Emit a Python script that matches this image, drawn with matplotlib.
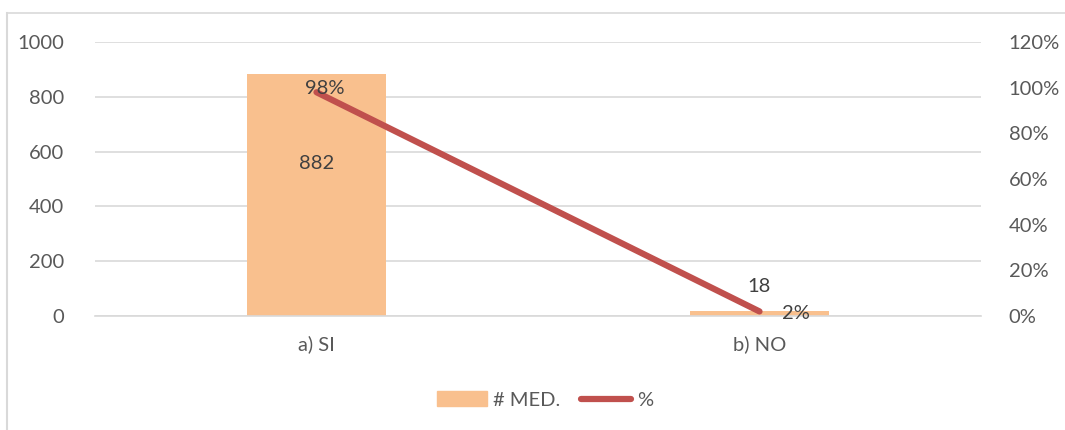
import matplotlib.pyplot as plt
from matplotlib.lines import Line2D
from matplotlib.patches import Patch
from matplotlib.ticker import FuncFormatter

categories = ["a) SI", "b) NO"]
med_counts = [882, 18]
percents = [0.98, 0.02]

bar_color = "#F9C08E"
line_color = "#C0504D"
text_color = "#595959"
grid_color = "#D9D9D9"

plt.rcParams["font.family"] = ["Lato", "DejaVu Sans"]
fs = 14.5

fig = plt.figure(figsize=(10.65, 4.3), dpi=100)
ax = fig.add_axes([95 / 1065, 1 - 316 / 430, 886 / 1065, 274 / 430])
ax2 = ax.twinx()

x = range(len(categories))
ax.bar(x, med_counts, width=0.314, color=bar_color, zorder=2)
ax2.plot(x, percents, color=line_color, linewidth=4.5, solid_capstyle="round", zorder=3)

ax.set_xlim(-0.5, 1.5)
ax.set_ylim(0, 1000)
ax.set_yticks(range(0, 1001, 200))
ax2.set_ylim(0, 1.2)
ax2.set_yticks([i / 10 for i in range(0, 13, 2)])
ax2.yaxis.set_major_formatter(FuncFormatter(lambda v, p: f"{v:.0%}"))

ax.set_xticks(list(x))
ax.set_xticklabels(categories)
ax.grid(axis="y", color=grid_color, linewidth=1.2, zorder=0)
ax.set_axisbelow(True)
for a in (ax, ax2):
    for s in a.spines.values():
        s.set_visible(False)
    a.tick_params(length=0, colors=text_color, labelsize=fs)
ax.tick_params(axis="y", pad=22)
ax2.tick_params(axis="y", pad=20)
ax.tick_params(axis="x", pad=14)
ax.spines["bottom"].set_visible(True)
ax.spines["bottom"].set_color(grid_color)
ax.spines["bottom"].set_linewidth(1.2)

# data labels
lbl = dict(ha="center", va="center", color="#404040", fontsize=fs, textcoords="offset pixels")
ax.annotate(str(med_counts[0]), (0, med_counts[0]), xytext=(0, -89), **lbl)
ax.annotate(str(med_counts[1]), (1, med_counts[1]), xytext=(0, 25), **lbl)
ax2.annotate(f"{percents[0]:.0%}", (0, percents[0]), xytext=(8, 4), **lbl)
ax2.annotate(f"{percents[1]:.0%}", (1, percents[1]), xytext=(36, -2), **lbl)

handles = [Patch(color=bar_color), Line2D([0], [0], color=line_color, linewidth=4.5, solid_capstyle="round")]
fig.legend(handles, ["# MED.", "%"], loc="center", bbox_to_anchor=(545 / 1065, 1 - 400 / 430),
           ncol=2, frameon=False, labelcolor=text_color, fontsize=fs,
           handlelength=2.5, handletextpad=0.3, columnspacing=1.0)

# chart border (left and top edges visible)
fig.add_artist(Line2D([7 / 1065, 7 / 1065], [0, 1 - 13 / 430], color=grid_color, linewidth=1.5))
fig.add_artist(Line2D([7 / 1065, 1], [1 - 13 / 430, 1 - 13 / 430], color=grid_color, linewidth=1.2))

fig.savefig("out.png", dpi=100)
